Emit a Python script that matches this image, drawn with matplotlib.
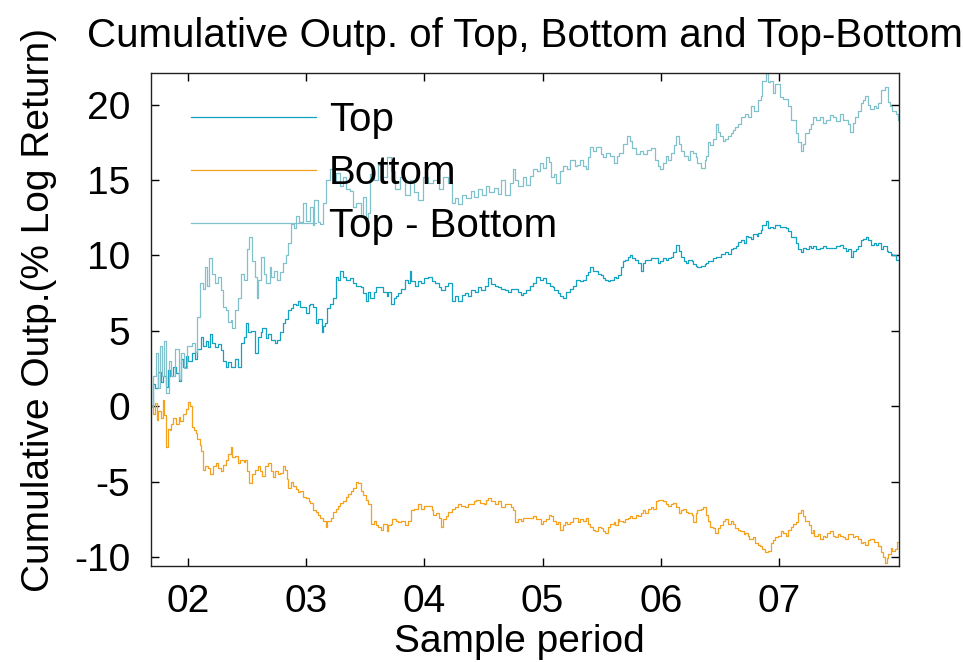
import numpy as np
import matplotlib
matplotlib.use("Agg")
import matplotlib.pyplot as plt

# --------------------------------------------------
# data (dates in decimal years)
# --------------------------------------------------
top_dates = [
    2001.69, 2001.70, 2001.72, 2001.75, 2001.77, 2001.79, 2001.81, 2001.83, 2001.85, 2001.87,
    2001.90, 2001.92, 2001.94, 2001.96, 2001.98, 2002.00, 2002.03, 2002.06, 2002.08, 2002.11,
    2002.13, 2002.15, 2002.17, 2002.19, 2002.20, 2002.23, 2002.25, 2002.28, 2002.30, 2002.32,
    2002.34, 2002.36, 2002.40, 2002.42, 2002.45, 2002.47, 2002.49, 2002.51, 2002.53, 2002.57,
    2002.59, 2002.62, 2002.63, 2002.66, 2002.68, 2002.70, 2002.74, 2002.75, 2002.78, 2002.80,
    2002.82, 2002.85, 2002.87, 2002.89, 2002.91, 2002.93, 2002.95, 2002.97, 2003.00, 2003.02,
    2003.03, 2003.06, 2003.08, 2003.10, 2003.13, 2003.14, 2003.16, 2003.18, 2003.20, 2003.23,
    2003.25, 2003.27, 2003.29, 2003.31, 2003.34, 2003.37, 2003.40, 2003.42, 2003.46, 2003.48,
    2003.51, 2003.52, 2003.54, 2003.57, 2003.59, 2003.62, 2003.65, 2003.68, 2003.69, 2003.72,
    2003.74, 2003.76, 2003.78, 2003.80, 2003.84, 2003.86, 2003.88, 2003.89, 2003.92, 2003.95,
    2003.97, 2004.00, 2004.03, 2004.06, 2004.09, 2004.12, 2004.14, 2004.17, 2004.20, 2004.23,
    2004.26, 2004.28, 2004.32, 2004.34, 2004.37, 2004.39, 2004.43, 2004.45, 2004.48, 2004.51,
    2004.54, 2004.56, 2004.60, 2004.62, 2004.65, 2004.68, 2004.71, 2004.73, 2004.77, 2004.79,
    2004.82, 2004.83, 2004.86, 2004.89, 2004.92, 2004.94, 2004.98, 2005.00, 2005.03, 2005.06,
    2005.09, 2005.10, 2005.13, 2005.15, 2005.17, 2005.20, 2005.23, 2005.26, 2005.28, 2005.32,
    2005.34, 2005.37, 2005.38, 2005.40, 2005.43, 2005.44, 2005.47, 2005.49, 2005.51, 2005.53,
    2005.55, 2005.57, 2005.60, 2005.62, 2005.64, 2005.66, 2005.68, 2005.70, 2005.72, 2005.74,
    2005.76, 2005.78, 2005.81, 2005.83, 2005.85, 2005.87, 2005.89, 2005.92, 2005.95, 2005.98,
    2005.99, 2006.02, 2006.04, 2006.06, 2006.09, 2006.10, 2006.13, 2006.15, 2006.17, 2006.20,
    2006.21, 2006.23, 2006.26, 2006.27, 2006.30, 2006.31, 2006.34, 2006.37, 2006.38, 2006.40,
    2006.42, 2006.44, 2006.47, 2006.48, 2006.51, 2006.54, 2006.57, 2006.59, 2006.61, 2006.64,
    2006.65, 2006.68, 2006.70, 2006.72, 2006.74, 2006.76, 2006.78, 2006.81, 2006.82, 2006.85,
    2006.86, 2006.89, 2006.91, 2006.92, 2006.95, 2006.97, 2007.01, 2007.03, 2007.06, 2007.08,
    2007.10, 2007.14, 2007.16, 2007.19, 2007.20, 2007.23, 2007.25, 2007.27, 2007.29, 2007.31,
    2007.35, 2007.37, 2007.40, 2007.43, 2007.46, 2007.48, 2007.52, 2007.54, 2007.57, 2007.58,
    2007.61, 2007.63, 2007.65, 2007.67, 2007.69, 2007.71, 2007.74, 2007.75, 2007.78, 2007.80,
    2007.82, 2007.84, 2007.86, 2007.88, 2007.91, 2007.92, 2007.95, 2007.96, 2007.99, 2008.01]
top_vals = [
    0.0, 1.5, 1.2, 2.3, 1.6, 2.0, 1.3, 2.4, 2.0, 2.6,
    2.2, 1.7, 3.1, 2.6, 3.3, 3.0, 3.5, 3.1, 3.8, 4.6,
    4.0, 4.3, 3.9, 4.8, 4.2, 3.9, 4.1, 3.7, 3.0, 2.6,
    2.9, 2.6, 3.1, 2.6, 4.2, 4.6, 5.5, 4.9, 5.0, 3.5,
    4.6, 4.9, 5.2, 4.5, 4.8, 4.4, 4.2, 4.4, 4.9, 5.5,
    5.8, 6.4, 6.5, 6.8, 6.7, 7.0, 6.6, 6.6, 6.2, 6.7,
    6.8, 6.6, 5.5, 5.8, 4.9, 5.3, 5.5, 6.5, 6.8, 7.2,
    8.6, 8.4, 9.0, 8.6, 8.4, 8.5, 8.2, 8.0, 7.9, 7.5,
    7.0, 7.6, 7.2, 7.6, 7.9, 7.9, 7.6, 7.3, 7.6, 6.8,
    7.2, 7.3, 7.5, 7.8, 8.4, 8.2, 9.0, 8.3, 8.0, 8.3,
    8.2, 8.5, 8.6, 8.3, 8.2, 7.9, 7.7, 8.0, 8.2, 7.0,
    7.3, 7.0, 7.4, 7.5, 7.3, 7.7, 7.6, 7.9, 7.7, 8.0,
    8.5, 8.1, 8.0, 7.9, 7.8, 7.7, 7.6, 7.8, 7.8, 7.6,
    7.4, 7.5, 7.7, 8.0, 8.2, 8.6, 8.4, 8.5, 8.2, 8.0,
    7.9, 7.7, 7.5, 7.3, 7.2, 7.6, 7.8, 8.0, 8.4, 8.3,
    8.4, 8.7, 8.9, 9.2, 9.0, 9.0, 8.8, 8.7, 8.5, 8.4,
    8.3, 8.4, 8.6, 8.5, 8.7, 9.2, 9.6, 9.7, 9.9, 10.0,
    9.8, 9.7, 9.5, 9.0, 9.5, 9.7, 9.7, 9.8, 9.8, 9.5,
    9.6, 9.8, 9.7, 9.8, 9.9, 10.2, 10.7, 10.3, 9.9, 9.6,
    9.5, 9.7, 9.6, 9.4, 9.3, 9.2, 9.3, 9.4, 9.5, 9.6,
    9.6, 9.8, 9.9, 9.9, 10.1, 10.2, 10.1, 10.4, 10.5, 10.6,
    10.9, 11.0, 10.8, 11.3, 11.2, 11.1, 11.4, 11.3, 11.5, 11.7,
    12.0, 12.3, 11.8, 11.9, 11.8, 12.0, 11.9, 11.9, 11.8, 11.6,
    11.2, 10.8, 10.4, 10.2, 10.5, 10.4, 10.6, 10.5, 10.6, 10.4,
    10.5, 10.6, 10.5, 10.5, 10.5, 10.6, 10.7, 10.5, 10.3, 10.4,
    9.9, 10.3, 10.4, 10.6, 11.0, 11.1, 11.2, 11.0, 10.7, 10.8,
    10.7, 10.8, 10.4, 10.6, 10.3, 10.2, 10.1, 10.0, 9.7, 9.7]

bottom_dates = [
    2001.69, 2001.70, 2001.72, 2001.74, 2001.75, 2001.77, 2001.79, 2001.80, 2001.81, 2001.83,
    2001.85, 2001.86, 2001.87, 2001.90, 2001.92, 2001.93, 2001.96, 2001.98, 2002.00, 2002.02,
    2002.03, 2002.05, 2002.07, 2002.08, 2002.10, 2002.11, 2002.13, 2002.14, 2002.17, 2002.19,
    2002.21, 2002.24, 2002.25, 2002.28, 2002.30, 2002.32, 2002.34, 2002.36, 2002.37, 2002.40,
    2002.42, 2002.44, 2002.47, 2002.48, 2002.50, 2002.52, 2002.54, 2002.57, 2002.59, 2002.61,
    2002.63, 2002.65, 2002.68, 2002.70, 2002.72, 2002.74, 2002.76, 2002.78, 2002.80, 2002.82,
    2002.84, 2002.85, 2002.87, 2002.89, 2002.91, 2002.93, 2002.95, 2002.97, 2003.00, 2003.02,
    2003.03, 2003.06, 2003.08, 2003.10, 2003.12, 2003.14, 2003.17, 2003.18, 2003.21, 2003.23,
    2003.25, 2003.27, 2003.29, 2003.31, 2003.34, 2003.35, 2003.38, 2003.40, 2003.42, 2003.44,
    2003.46, 2003.48, 2003.51, 2003.52, 2003.55, 2003.57, 2003.59, 2003.61, 2003.63, 2003.65,
    2003.68, 2003.69, 2003.72, 2003.73, 2003.76, 2003.78, 2003.80, 2003.84, 2003.86, 2003.89,
    2003.91, 2003.95, 2003.97, 2004.00, 2004.03, 2004.06, 2004.07, 2004.10, 2004.12, 2004.14,
    2004.16, 2004.18, 2004.20, 2004.23, 2004.26, 2004.28, 2004.31, 2004.34, 2004.37, 2004.39,
    2004.42, 2004.44, 2004.47, 2004.50, 2004.52, 2004.54, 2004.56, 2004.60, 2004.62, 2004.65,
    2004.68, 2004.71, 2004.73, 2004.75, 2004.77, 2004.79, 2004.82, 2004.83, 2004.86, 2004.89,
    2004.92, 2004.94, 2004.96, 2004.99, 2005.00, 2005.03, 2005.05, 2005.07, 2005.09, 2005.11,
    2005.13, 2005.15, 2005.17, 2005.19, 2005.21, 2005.23, 2005.26, 2005.28, 2005.30, 2005.32,
    2005.34, 2005.37, 2005.38, 2005.40, 2005.43, 2005.44, 2005.47, 2005.49, 2005.51, 2005.53,
    2005.55, 2005.57, 2005.60, 2005.61, 2005.64, 2005.65, 2005.68, 2005.70, 2005.72, 2005.74,
    2005.76, 2005.79, 2005.81, 2005.83, 2005.85, 2005.87, 2005.89, 2005.92, 2005.93, 2005.96,
    2005.98, 2006.00, 2006.02, 2006.04, 2006.06, 2006.09, 2006.10, 2006.13, 2006.15, 2006.17,
    2006.19, 2006.21, 2006.23, 2006.26, 2006.27, 2006.30, 2006.31, 2006.34, 2006.36, 2006.38,
    2006.40, 2006.42, 2006.44, 2006.46, 2006.48, 2006.50, 2006.53, 2006.54, 2006.57, 2006.59,
    2006.61, 2006.63, 2006.65, 2006.67, 2006.70, 2006.71, 2006.74, 2006.75, 2006.78, 2006.80,
    2006.82, 2006.84, 2006.86, 2006.88, 2006.91, 2006.93, 2006.95, 2006.97, 2006.99, 2007.02,
    2007.03, 2007.06, 2007.08, 2007.10, 2007.12, 2007.14, 2007.16, 2007.19, 2007.20, 2007.22,
    2007.25, 2007.27, 2007.29, 2007.30, 2007.33, 2007.35, 2007.37, 2007.39, 2007.41, 2007.43,
    2007.46, 2007.47, 2007.50, 2007.52, 2007.54, 2007.56, 2007.58, 2007.60, 2007.63, 2007.64,
    2007.67, 2007.69, 2007.71, 2007.73, 2007.75, 2007.77, 2007.80, 2007.81, 2007.84, 2007.86,
    2007.88, 2007.90, 2007.91, 2007.92, 2007.95, 2007.96, 2007.98, 2008.00, 2008.01]
bottom_vals = [
    0.0, -0.5, 0.2, -0.9, -0.3, -0.8, 0.4, -0.6, -2.7, -1.5,
    -1.6, -1.2, -0.8, -1.2, -0.7, -1.0, -0.5, -0.2, 0.3, 0.0,
    -1.4, -1.6, -1.8, -2.2, -2.6, -3.0, -4.2, -4.0, -4.1, -4.5,
    -4.0, -3.8, -4.1, -4.3, -3.9, -3.6, -3.2, -2.7, -3.4, -3.3,
    -3.8, -3.6, -3.7, -3.6, -4.3, -5.1, -4.5, -4.2, -4.0, -4.3,
    -4.6, -4.0, -3.8, -4.3, -4.7, -4.3, -4.5, -4.4, -4.0, -4.2,
    -4.8, -5.4, -5.0, -5.3, -5.5, -5.7, -5.6, -6.0, -6.1, -6.3,
    -6.4, -6.9, -7.0, -7.2, -7.4, -7.6, -8.0, -7.6, -7.4, -7.0,
    -6.8, -6.6, -6.4, -6.3, -6.0, -5.8, -5.6, -5.4, -5.0, -5.1,
    -5.6, -5.9, -6.2, -6.5, -7.8, -7.6, -7.9, -8.0, -8.2, -7.8,
    -8.3, -7.9, -7.8, -7.5, -7.6, -7.7, -7.6, -7.9, -7.6, -6.9,
    -6.8, -6.5, -6.8, -6.6, -6.6, -6.9, -7.2, -7.1, -7.4, -8.0,
    -7.5, -7.3, -7.0, -6.8, -6.7, -6.5, -6.6, -6.7, -6.5, -6.5,
    -6.3, -6.2, -6.4, -6.5, -6.2, -6.1, -6.3, -6.5, -6.3, -6.7,
    -6.5, -6.5, -6.7, -6.9, -7.7, -7.5, -7.6, -7.4, -7.4, -7.4,
    -7.3, -7.5, -7.5, -7.8, -7.6, -7.5, -7.2, -7.3, -7.6, -7.8,
    -7.7, -8.2, -7.9, -7.7, -7.8, -7.7, -7.4, -7.4, -7.7, -7.5,
    -7.6, -7.4, -7.8, -8.0, -8.2, -8.3, -8.0, -8.1, -8.3, -8.4,
    -8.0, -7.8, -7.7, -7.9, -7.5, -7.6, -7.7, -7.5, -7.4, -7.3,
    -7.4, -7.2, -7.3, -7.1, -6.9, -7.1, -6.8, -6.7, -6.8, -6.3,
    -6.2, -6.2, -6.3, -6.5, -6.6, -6.5, -6.4, -6.7, -7.1, -6.9,
    -6.8, -7.0, -7.1, -7.2, -7.7, -7.1, -6.9, -6.8, -6.7, -7.2,
    -7.6, -8.0, -8.1, -8.4, -8.1, -7.9, -7.6, -7.5, -7.8, -7.6,
    -7.8, -8.1, -8.2, -8.3, -8.5, -8.4, -8.6, -8.8, -8.7, -9.1,
    -9.2, -9.3, -9.5, -9.7, -9.6, -9.1, -8.9, -8.7, -8.6, -8.3,
    -8.4, -8.6, -8.2, -8.0, -7.8, -7.7, -7.1, -6.9, -7.3, -7.6,
    -7.9, -8.4, -8.2, -8.6, -8.5, -8.8, -8.6, -8.7, -8.4, -8.3,
    -8.6, -8.7, -8.5, -8.6, -8.7, -8.8, -8.5, -8.5, -8.7, -8.6,
    -8.8, -9.1, -9.0, -9.2, -8.9, -8.8, -9.0, -9.0, -9.3, -9.7,
    -10.0, -10.4, -10.1, -9.8, -9.4, -9.6, -9.5, -9.0, -9.0]

tb_dates = [
    2001.69, 2001.70, 2001.73, 2001.75, 2001.76, 2001.78, 2001.80, 2001.81, 2001.84, 2001.86,
    2001.89, 2001.92, 2001.94, 2001.97, 2001.99, 2002.03, 2002.06, 2002.08, 2002.10, 2002.13,
    2002.14, 2002.16, 2002.18, 2002.20, 2002.23, 2002.25, 2002.28, 2002.30, 2002.32, 2002.34,
    2002.36, 2002.37, 2002.40, 2002.42, 2002.45, 2002.47, 2002.50, 2002.52, 2002.54, 2002.57,
    2002.58, 2002.59, 2002.62, 2002.64, 2002.66, 2002.69, 2002.70, 2002.73, 2002.75, 2002.78,
    2002.80, 2002.83, 2002.85, 2002.87, 2002.90, 2002.91, 2002.94, 2002.97, 2003.00, 2003.03,
    2003.06, 2003.07, 2003.10, 2003.12, 2003.14, 2003.17, 2003.20, 2003.23, 2003.25, 2003.29,
    2003.31, 2003.34, 2003.37, 2003.40, 2003.42, 2003.46, 2003.48, 2003.51, 2003.52, 2003.54,
    2003.57, 2003.61, 2003.64, 2003.68, 2003.72, 2003.75, 2003.79, 2003.84, 2003.88, 2003.91,
    2003.95, 2003.99, 2004.03, 2004.07, 2004.12, 2004.16, 2004.20, 2004.23, 2004.26, 2004.28,
    2004.32, 2004.35, 2004.39, 2004.42, 2004.45, 2004.49, 2004.52, 2004.55, 2004.59, 2004.62,
    2004.65, 2004.68, 2004.72, 2004.75, 2004.77, 2004.79, 2004.83, 2004.86, 2004.89, 2004.92,
    2004.95, 2004.98, 2005.00, 2005.03, 2005.05, 2005.07, 2005.10, 2005.11, 2005.15, 2005.17,
    2005.21, 2005.23, 2005.27, 2005.29, 2005.32, 2005.34, 2005.37, 2005.38, 2005.40, 2005.43,
    2005.45, 2005.49, 2005.51, 2005.54, 2005.57, 2005.60, 2005.63, 2005.65, 2005.68, 2005.71,
    2005.74, 2005.76, 2005.79, 2005.82, 2005.85, 2005.88, 2005.92, 2005.95, 2005.98, 2005.99,
    2006.02, 2006.04, 2006.06, 2006.09, 2006.11, 2006.13, 2006.15, 2006.17, 2006.20, 2006.23,
    2006.25, 2006.27, 2006.30, 2006.31, 2006.34, 2006.37, 2006.38, 2006.40, 2006.42, 2006.44,
    2006.47, 2006.48, 2006.50, 2006.53, 2006.54, 2006.57, 2006.59, 2006.61, 2006.63, 2006.65,
    2006.68, 2006.71, 2006.74, 2006.76, 2006.79, 2006.82, 2006.85, 2006.86, 2006.89, 2006.91,
    2006.92, 2006.95, 2006.97, 2007.01, 2007.03, 2007.06, 2007.08, 2007.10, 2007.14, 2007.16,
    2007.19, 2007.20, 2007.22, 2007.25, 2007.27, 2007.29, 2007.31, 2007.35, 2007.37, 2007.40,
    2007.43, 2007.46, 2007.48, 2007.52, 2007.54, 2007.56, 2007.58, 2007.60, 2007.63, 2007.64,
    2007.67, 2007.69, 2007.71, 2007.73, 2007.75, 2007.77, 2007.80, 2007.82, 2007.84, 2007.86,
    2007.90, 2007.92, 2007.94, 2007.96, 2007.99, 2008.01]
tb_vals = [
    0.0, 2.0, 3.5, 1.2, 4.0, 2.0, 4.3, 0.9, 3.0, 2.0,
    3.8, 1.8, 3.5, 2.5, 4.0, 4.2, 3.6, 5.9, 8.2, 7.8,
    9.2, 8.0, 9.8, 8.8, 8.2, 8.6, 7.7, 6.6, 6.4, 5.6,
    5.7, 5.2, 6.4, 7.2, 8.8, 8.4, 10.4, 11.2, 9.6, 8.6,
    7.2, 8.4, 9.9, 8.8, 8.2, 9.2, 8.6, 9.0, 8.4, 8.9,
    9.5, 10.0, 10.8, 12.1, 11.8, 12.6, 12.2, 13.5, 12.3, 13.2,
    12.0, 13.7, 12.2, 12.1, 13.5, 15.0, 15.7, 14.8, 15.5, 14.6,
    15.2, 14.4, 14.3, 13.2, 13.5, 12.6, 13.9, 12.5, 12.8, 15.4,
    15.0, 16.0, 15.2, 16.5, 15.6, 14.4, 15.2, 14.0, 15.0, 14.2,
    13.7, 15.2, 14.8, 15.0, 14.4, 15.2, 14.8, 13.5, 13.8, 13.4,
    14.0, 13.8, 14.3, 13.9, 14.4, 14.0, 14.6, 14.2, 14.5, 14.1,
    15.0, 14.0, 14.8, 15.7, 15.0, 14.6, 15.2, 14.7, 15.3, 15.7,
    15.6, 16.1, 15.8, 16.5, 16.2, 15.2, 15.4, 14.8, 15.6, 15.9,
    15.7, 16.3, 15.9, 16.0, 16.3, 15.9, 15.7, 16.5, 17.2, 16.9,
    17.2, 16.7, 16.5, 16.8, 16.6, 16.1, 16.6, 16.8, 17.4, 17.9,
    17.6, 17.1, 16.7, 16.9, 16.7, 17.0, 17.1, 16.3, 15.9, 15.7,
    16.1, 16.6, 16.3, 16.8, 17.3, 17.9, 17.4, 16.9, 16.6, 16.3,
    16.9, 16.8, 16.5, 16.1, 15.8, 16.3, 16.6, 17.5, 17.3, 17.7,
    18.7, 18.2, 17.9, 17.6, 17.7, 17.9, 18.1, 18.3, 18.5, 18.7,
    19.2, 19.4, 19.2, 19.9, 19.6, 20.3, 20.6, 21.6, 22.1, 21.5,
    21.6, 20.8, 21.4, 20.5, 20.4, 20.4, 19.9, 19.0, 18.1, 17.5,
    16.9, 17.4, 18.1, 18.4, 18.7, 19.2, 19.0, 19.2, 18.8, 19.0,
    19.3, 19.2, 18.9, 19.4, 19.0, 19.0, 18.7, 18.2, 18.8, 19.2,
    19.6, 20.1, 20.3, 20.6, 20.0, 19.7, 19.9, 19.8, 20.1, 21.0,
    21.2, 20.2, 19.9, 19.6, 19.4, 19.0]

year_ticks = [2002, 2003, 2004, 2005, 2006, 2007]
year_labels = ['02', '03', '04', '05', '06', '07']
y_ticks = [-10, -5, 0, 5, 10, 15, 20]

# --------------------------------------------------
# figure
# --------------------------------------------------
plt.rcParams['font.family'] = ['Liberation Sans', 'DejaVu Sans']
plt.rcParams['axes.unicode_minus'] = False

fig = plt.figure(figsize=(9.63, 6.62), dpi=100)
ax = fig.add_axes([151/963, 1 - 566/662, 748/963, 493/662])

c_top = '#14a2c2'
c_bot = '#f7a01e'
c_tb = '#80c1cc'

ax.plot(top_dates, top_vals, color=c_top, lw=0.9, drawstyle='steps-post', label='Top')
ax.plot(bottom_dates, bottom_vals, color=c_bot, lw=0.9, drawstyle='steps-post', label='Bottom')
ax.plot(tb_dates, tb_vals, color=c_tb, lw=0.9, drawstyle='steps-post', label='Top - Bottom')

ax.set_xlim(2001.687, 2008.015)
ax.set_ylim(-10.6, 22.1)
ax.set_xticks(year_ticks)
ax.set_xticklabels(year_labels)
ax.set_yticks(y_ticks)
ax.tick_params(direction='in', top=True, right=True, length=5.5, width=1,
               labelsize=28)
ax.tick_params(axis='x', pad=13)
ax.tick_params(axis='y', pad=15)
for s in ax.spines.values():
    s.set_linewidth(1)
    s.set_color('#222222')

ax.set_title('Cumulative Outp. of Top, Bottom and Top-Bottom', fontsize=29, pad=19)
ax.set_xlabel('Sample period', fontsize=28)
ax.xaxis.set_label_coords(0.493, -0.117)
ax.set_ylabel('Cumulative Outp.(% Log Return)', fontsize=28)
ax.yaxis.set_label_coords(-0.126, 0.519)

leg = ax.legend(loc='upper left', frameon=False, fontsize=29,
                handlelength=3.1, handletextpad=0.32, labelspacing=0.37,
                borderpad=0, borderaxespad=0,
                bbox_to_anchor=(0.0535, 0.943))

fig.savefig('out.png', dpi=100)
